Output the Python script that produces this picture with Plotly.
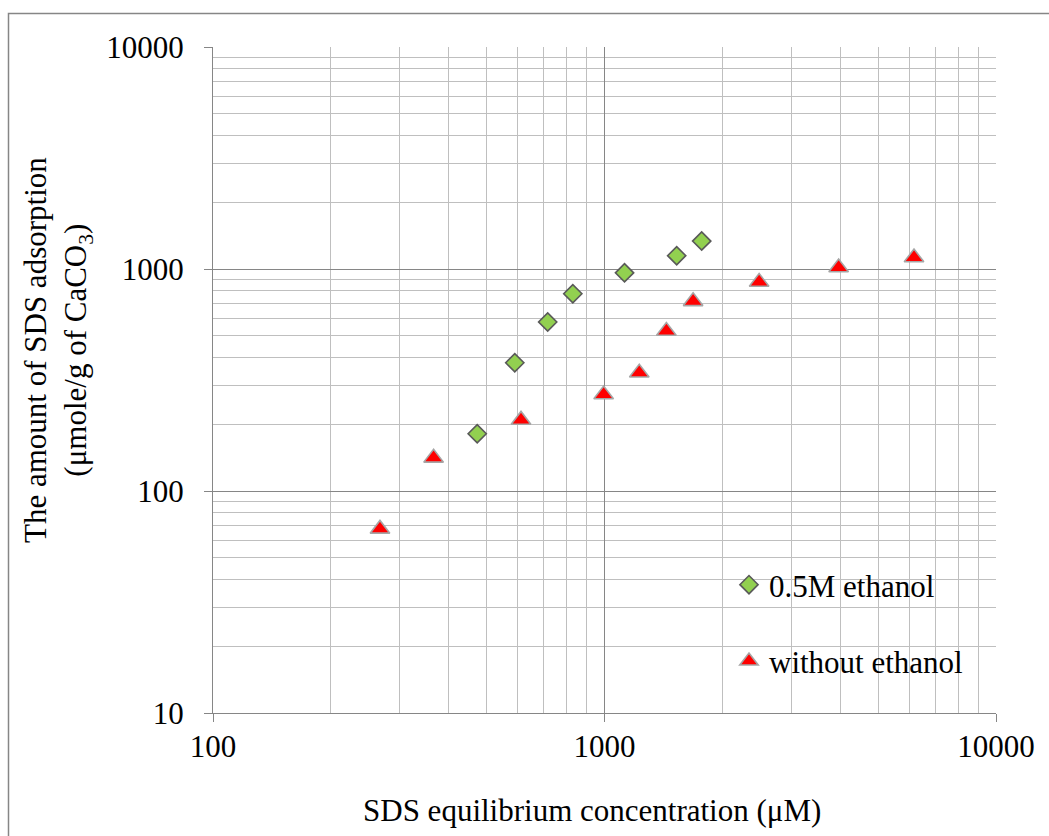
import numpy as np
import plotly.graph_objects as go

# ---- data ----
eth_x = [473, 590, 716, 830, 1125, 1529, 1771]
eth_y = [181, 378, 577, 774, 961, 1148, 1336]

noeth_x = [267, 366, 612, 995, 1227, 1439, 1684, 2483, 3963, 6174]
noeth_y = [67.5, 141, 209, 272, 341, 526, 715, 874, 1015, 1126]

series_names = ["0.5M ethanol", "without ethanol"]

x_tickvals = [100, 1000, 10000]
x_ticktext = ["100", "1000", "10000"]
y_tickvals = [10, 100, 1000, 10000]
y_ticktext = ["10", "100", "1000", "10000"]

FONT = "Liberation Serif"
FS = 31
MAJOR = "#868686"
MINOR = "#BFBFBF"

def minor_vals(lo_exp, hi_exp):
    return [m * 10 ** e for e in range(lo_exp, hi_exp) for m in range(2, 10)]

fig = go.Figure()
fig.add_trace(go.Scatter(
    x=eth_x, y=eth_y, mode="markers", name=series_names[0], legendgroup="a",
    marker=dict(symbol="diamond", size=14, color="#92D050",
                line=dict(color="#595959", width=1.6)),
))
fig.add_trace(go.Scatter(
    x=noeth_x, y=noeth_y, mode="markers", name=series_names[1], legendgroup="b",
    marker=dict(symbol="triangle-up", size=17, color="#FF0000",
                line=dict(color="#A6A6A6", width=1.6)),
))

W, H = 1049, 836
L, R, T, B = 213, 53, 47, 123
pw, ph = W - L - R, H - T - B

def px_to_paper_x(px):
    return (px - L) / pw

def py_to_paper_y(py):
    return (H - B - py) / ph

fig.update_layout(
    width=W, height=H,
    margin=dict(l=L, r=R, t=T, b=B, pad=0),
    paper_bgcolor="white", plot_bgcolor="white",
    font=dict(family=FONT, size=FS, color="black"),
    showlegend=True,
    legend=dict(
        x=px_to_paper_x(729), y=py_to_paper_y(558), xanchor="left", yanchor="top",
        bgcolor="rgba(0,0,0,0)", borderwidth=0,
        font=dict(family=FONT, size=FS, color="black"),
        traceorder="grouped", tracegroupgap=33, itemwidth=30,
    ),
    xaxis=dict(
        type="log", range=[2, 4],
        tickmode="array", tickvals=x_tickvals, ticktext=x_ticktext,
        tickfont=dict(family=FONT, size=FS, color="black"),
        showgrid=True, gridcolor=MAJOR, gridwidth=1.3,
        showline=True, linecolor=MAJOR, linewidth=1.3,
        ticks="outside", ticklen=8, tickcolor=MAJOR, tickwidth=1.3,
        ticklabelstandoff=-2,
        minor=dict(tickmode="array", tickvals=minor_vals(2, 4), showgrid=True,
                   gridcolor=MINOR, gridwidth=1.3, ticks=""),
        zeroline=False, mirror=False,
    ),
    yaxis=dict(
        type="log", range=[1, 4],
        tickmode="array", tickvals=y_tickvals, ticktext=y_ticktext,
        tickfont=dict(family=FONT, size=FS, color="black"),
        showgrid=True, gridcolor=MAJOR, gridwidth=1.3,
        showline=True, linecolor=MAJOR, linewidth=1.3,
        ticks="outside", ticklen=8, tickcolor=MAJOR, tickwidth=1.3,
        ticklabelstandoff=14,
        minor=dict(tickmode="array", tickvals=minor_vals(1, 4), showgrid=True,
                   gridcolor=MINOR, gridwidth=1.3, ticks=""),
        zeroline=False, mirror=False,
    ),
    shapes=[dict(
        type="rect", xref="paper", yref="paper",
        x0=px_to_paper_x(8.5), x1=px_to_paper_x(1070),
        y0=py_to_paper_y(870), y1=py_to_paper_y(13.5),
        line=dict(color=MAJOR, width=1.5), fillcolor="rgba(0,0,0,0)", layer="below",
    )],
    annotations=[
        dict(text="SDS equilibrium concentration (μM)", xref="paper", yref="paper",
             x=px_to_paper_x(592), y=py_to_paper_y(810), xanchor="center", yanchor="middle",
             showarrow=False, font=dict(family=FONT, size=FS, color="black")),
        dict(text="The amount of SDS adsorption<br>(μmole/g of CaCO<sub>3</sub>)",
             xref="paper", yref="paper", textangle=-90,
             x=px_to_paper_x(58), y=py_to_paper_y(350), xanchor="center", yanchor="middle",
             showarrow=False, font=dict(family=FONT, size=FS, color="black")),
    ],
)

fig.write_html("out.html")
